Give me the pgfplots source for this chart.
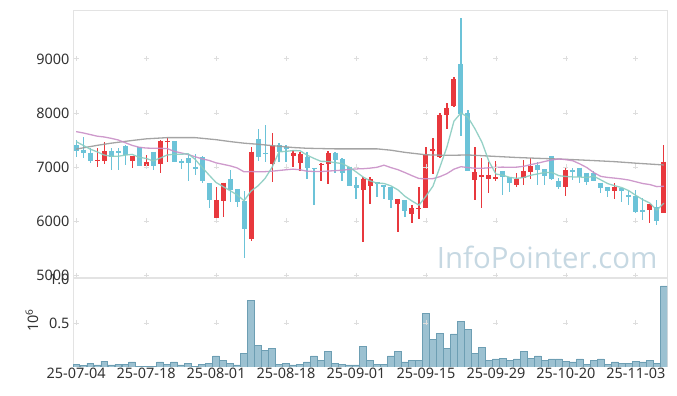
\documentclass[border=0pt]{standalone}
\usepackage{fontspec}
\setmainfont{Noto Sans}
\newfontfamily\wmfont{Open Sans}
\usepackage{pgfplots}
\usepackage{pgfplotstable}
\pgfplotsset{compat=1.18}
\definecolor{upc}{HTML}{E8383D}
\definecolor{dnc}{HTML}{6CC3D8}
\definecolor{maA}{HTML}{8ACCC0}
\definecolor{maB}{HTML}{C98FC6}
\definecolor{maC}{HTML}{9A9A9A}
\definecolor{volf}{HTML}{9CC1D1}
\definecolor{vole}{HTML}{6D9EB3}
\definecolor{gridc}{HTML}{DDDDDD}
\definecolor{axc}{HTML}{E3E3E3}
\definecolor{wm}{HTML}{C6D8E2}
\definecolor{txt}{HTML}{333333}

% up candles (close > open): i open high low close
\pgfplotstableread{
i o h l c
3 7120 7346 7005 7135
4 7117 7470 7050 7296
8 7117 7204 6976 7204
10 7024 7222 6976 7087
12 7056 7500 6895 7481
13 7457 7531 7100 7487
20 6061 6624 6018 6389
21 6376 6709 6080 6709
25 5667 7376 5635 7283
28 7056 7624 6716 7389
31 7210 7315 7006 7265
32 7080 7283 6932 7240
35 7040 7080 6746 7060
36 7050 7296 6680 7254
41 6574 6820 5606 6778
42 6654 6820 6309 6778
46 6309 6407 5802 6407
48 6130 6296 5969 6246
49 6230 6635 6037 6240
50 6246 7376 6246 7222
51 7302 7531 6870 7333
52 7191 7994 7160 7963
53 7963 8191 7698 8098
54 8135 8672 8117 8624
57 6760 7376 6389 6900
58 6810 7160 6235 6852
59 6778 7100 6513 6852
60 6780 7110 6740 6810
63 6667 6883 6620 6772
64 6790 7130 6667 6926
65 6913 7172 6772 7019
70 6624 6976 6463 6945
77 6561 6698 6402 6624
82 6204 6315 5969 6315
84 6154 7407 6154 7100
}\upT

% down candles (close < open)
\pgfplotstableread{
i o h l c
0 7407 7500 7185 7302
1 7315 7550 7160 7254
2 7265 7346 7080 7117
5 7296 7346 6940 7190
6 7296 7346 6945 7254
7 7389 7407 7037 7222
9 7376 7376 7024 7024
11 7283 7283 6945 7024
14 7481 7481 7100 7100
15 7117 7142 6957 7080
16 7167 7240 6746 7080
17 7006 7235 6852 6957
18 7180 7204 6698 6746
19 6698 6698 6235 6389
22 6778 6944 6357 6574
23 6593 6593 6254 6357
24 6370 6561 5309 5852
26 7519 7698 7110 7191
27 7260 7778 7098 7250
29 7407 7438 7098 7283
30 7370 7400 7100 7330
33 7191 7283 6772 6976
34 6990 6990 6296 6980
37 7265 7283 6883 7130
38 7148 7160 6746 6895
39 7006 7006 6654 6654
40 6667 6820 6402 6617
43 6716 6716 6450 6679
44 6667 6667 6402 6624
45 6624 6624 6235 6389
47 6389 6389 6080 6185
55 8907 9754 7574 7981
56 7994 8056 6932 6932
61 6926 6926 6480 6820
62 6820 6820 6540 6698
66 7037 7098 6667 6944
67 6957 6957 6667 6833
68 7204 7204 6760 6772
69 6740 6800 6600 6624
71 6945 6990 6760 6907
72 6990 6990 6700 6820
73 6895 6895 6667 6728
74 6895 6930 6740 6740
75 6709 6709 6513 6605
76 6624 6624 6450 6561
78 6605 6605 6357 6561
79 6481 6561 6296 6450
80 6469 6574 6140 6172
81 6204 6420 6018 6161
83 6254 6389 5926 6006
}\dnT

% 5-day moving average
\pgfplotstableread{
i v
0 7470
1 7400
2 7330
3 7280
4 7221
5 7198
6 7198
7 7219
8 7233
9 7179
10 7158
11 7112
12 7164
13 7221
14 7236
15 7234
16 7246
17 7141
18 6993
19 6850
20 6712
21 6638
22 6561
23 6484
24 6376
25 6555
26 6651
27 6787
28 6993
29 7279
30 7289
31 7303
32 7301
33 7219
34 7158
35 7104
36 7102
37 7080
38 7064
39 6999
40 6910
41 6815
42 6744
43 6701
44 6695
45 6650
46 6575
47 6457
48 6370
49 6293
50 6460
51 6645
52 7001
53 7371
54 7848
55 8000
56 7920
57 7707
58 7458
59 7103
60 6869
61 6847
62 6806
63 6790
64 6805
65 6847
66 6872
67 6899
68 6899
69 6838
70 6824
71 6816
72 6814
73 6805
74 6828
75 6760
76 6691
77 6652
78 6618
79 6560
80 6474
81 6394
82 6332
83 6201
84 6331
}\maAT

% 20-day moving average
\pgfplotstableread{
i v
0 7654
1 7630
2 7600
3 7570
4 7555
5 7530
6 7500
7 7450
8 7400
9 7365
10 7350
11 7346
12 7346
13 7340
14 7290
15 7260
16 7230
17 7190
18 7150
19 7121
20 7076
21 7049
22 7021
23 6983
24 6910
25 6915
26 6912
27 6913
28 6922
29 6935
30 6948
31 6960
32 6948
33 6922
34 6916
35 6915
36 6924
37 6932
38 6940
39 6953
40 6964
41 6968
42 6978
43 6994
44 7033
45 6988
46 6949
47 6896
48 6839
49 6786
50 6781
51 6784
52 6821
53 6877
54 6959
55 7005
56 6989
57 6977
58 6975
59 6985
60 6995
61 6997
62 6993
63 6997
64 7013
65 7044
66 7071
67 7103
68 7130
69 7149
70 7135
71 7114
72 7056
73 6988
74 6894
75 6825
76 6806
77 6793
78 6778
79 6758
80 6726
81 6693
82 6674
83 6636
84 6644
}\maBT

% 60-day moving average
\pgfplotstableread{
i v
0 7330
3 7400
5 7440
8 7490
10 7520
13 7543
17 7543
20 7505
22 7470
24 7440
26 7420
28 7395
31 7360
33 7346
37 7335
43 7335
45 7310
47 7270
50 7225
53 7215
56 7222
60 7195
63 7175
66 7160
70 7142
74 7118
77 7098
80 7070
84 7037
}\maCT

% volume (millions)
\pgfplotstableread{
i v
0 0.034
1 0.015
2 0.045
3 0.023
4 0.068
5 0.023
6 0.034
7 0.034
8 0.057
9 0.011
10 0.011
11 0.011
12 0.057
13 0.034
14 0.057
15 0.023
16 0.045
17 0.011
18 0.034
19 0.045
20 0.125
21 0.079
22 0.045
23 0.023
24 0.158
25 0.758
26 0.249
27 0.192
28 0.215
29 0.034
30 0.045
31 0.023
32 0.034
33 0.057
34 0.125
35 0.079
36 0.181
37 0.045
38 0.034
39 0.023
40 0.023
41 0.238
42 0.079
43 0.034
44 0.034
45 0.125
46 0.181
47 0.057
48 0.079
49 0.079
50 0.611
51 0.317
52 0.385
53 0.215
54 0.377
55 0.521
56 0.430
57 0.158
58 0.226
59 0.079
60 0.091
61 0.102
62 0.079
63 0.091
64 0.181
65 0.102
66 0.125
67 0.079
68 0.091
69 0.091
70 0.068
71 0.057
72 0.091
73 0.034
74 0.079
75 0.091
76 0.034
77 0.057
78 0.045
79 0.045
80 0.068
81 0.057
82 0.079
83 0.045
84 0.921
}\volT

% grid crosses (price panel)
\pgfplotstableread{
x y
0 5000
10 5000
20 5000
30 5000
40 5000
50 5000
60 5000
70 5000
80 5000
0 6000
10 6000
20 6000
30 6000
40 6000
50 6000
60 6000
70 6000
80 6000
0 7000
10 7000
20 7000
30 7000
40 7000
50 7000
60 7000
70 7000
80 7000
0 8000
10 8000
20 8000
30 8000
40 8000
50 8000
60 8000
70 8000
80 8000
0 9000
10 9000
20 9000
30 9000
40 9000
50 9000
60 9000
70 9000
80 9000
}\gridT

\pgfplotstableread{
x y
0 0.5
10 0.5
20 0.5
30 0.5
40 0.5
50 0.5
60 0.5
70 0.5
80 0.5
}\gridV

\pgfplotsset{
  candle/.style n args={2}{draw=none, mark=none, forget plot,
    error bars/.cd, y dir=both, y explicit, error mark=none,
    error bar style={draw=#1, line width=#2, solid}},
}

\begin{document}
\begin{tikzpicture}
\path[use as bounding box] (0,0) rectangle (677bp,396bp);
\begin{axis}[
  name=price,
  at={(73bp,118bp)}, anchor=south west, scale only axis,
  width=594bp, height=268bp,
  xmin=-0.45, xmax=84.45, ymin=4945, ymax=9905,
  xtick={0,10,...,80}, xticklabels={},
  ytick={5000,6000,7000,8000,9000},
  major tick length=0pt,
  axis line style={draw=axc, line width=0.8bp},
  tick label style={font=\fontsize{14.5}{14.5}\selectfont, text=txt},
  /pgf/number format/assume math mode=true,
  /pgf/number format/set thousands separator={},
]
\node[anchor=base east, font=\wmfont\fontsize{29.5}{29.5}\selectfont, text=wm] at (rel axis cs:0.99,0.037) {InfoPointer.com};
\addplot[only marks, mark=+, mark size=2.5bp, draw=gridc, mark options={line width=0.8bp}] table[x=x,y=y] {\gridT};
% wicks
\addplot[candle={dnc}{1.1bp}]
  table[x=i, y=c, y error plus expr=\thisrow{h}-\thisrow{c}, y error minus expr=\thisrow{c}-\thisrow{l}] {\dnT};
\addplot[candle={upc}{1.1bp}]
  table[x=i, y=c, y error plus expr=\thisrow{h}-\thisrow{c}, y error minus expr=\thisrow{c}-\thisrow{l}] {\upT};
% bodies
\addplot[candle={dnc}{5bp}]
  table[x=i, y=o, y error plus expr=0, y error minus expr={max(\thisrow{o}-\thisrow{c},20)}] {\dnT};
\addplot[candle={upc}{5bp}]
  table[x=i, y=c, y error plus expr=0, y error minus expr={max(\thisrow{c}-\thisrow{o},20)}] {\upT};
% moving averages
\addplot[maC, line width=1.3bp, opacity=0.9] table[x=i,y=v] {\maCT};
\addplot[maB, line width=1.3bp, opacity=0.9] table[x=i,y=v] {\maBT};
\addplot[maA, line width=1.3bp, opacity=0.9] table[x=i,y=v] {\maAT};
\end{axis}

\begin{axis}[
  name=vol,
  at={(73bp,29bp)}, anchor=south west, scale only axis,
  width=594bp, height=88bp,
  xmin=-0.45, xmax=84.45, ymin=0, ymax=1.0,
  xtick={0,10,...,80},
  xticklabels={25-07-04,25-07-18,25-08-01,25-08-18,25-09-01,25-09-15,25-09-29,25-10-20,25-11-03},
  ytick={0.5,1.0}, yticklabels={0.5,1.0},
  major tick length=0pt,
  separate axis lines,
  x axis line style={draw=none},
  y axis line style={draw=axc, line width=0.8bp},
  tick label style={font=\fontsize{14.5}{14.5}\selectfont, text=txt},
  xticklabel style={yshift=2bp},
  ylabel={10\textsuperscript{6}},
  ylabel style={at={(axis description cs:-0.069,0.53)}, anchor=center, font=\fontsize{14.5}{14.5}\selectfont, text=txt},
]
\addplot[only marks, mark=+, mark size=2.5bp, draw=gridc, mark options={line width=0.8bp}] table[x=x,y=y] {\gridV};
\addplot[ybar, bar width=0.95, fill=volf, draw=vole, line width=0.6bp] table[x=i,y=v] {\volT};
\end{axis}
\draw[axc, line width=2bp] (price.south west) -- (price.south east);
\end{tikzpicture}
\end{document}
